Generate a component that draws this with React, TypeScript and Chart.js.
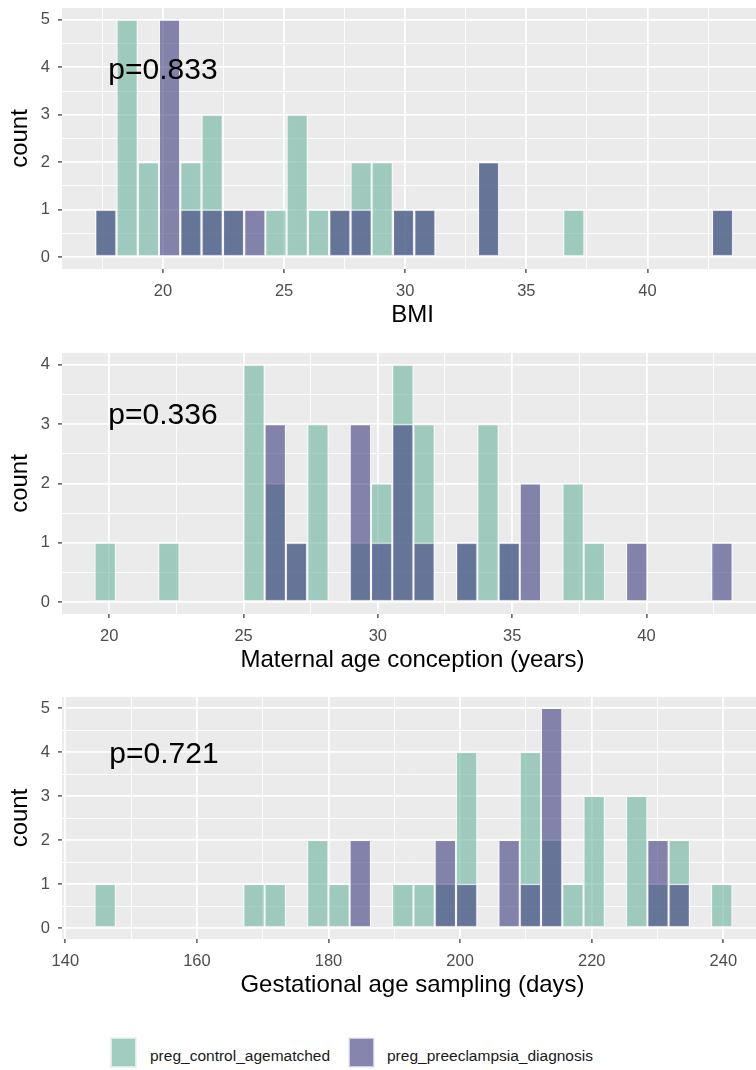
import React, { useEffect, useRef } from 'react';
import { Chart, registerables } from 'chart.js';

Chart.register(...registerables);

// ---------- data ----------
const SERIES_NAMES = ['preg_control_agematched', 'preg_preeclampsia_diagnosis'];

// Panel 1: BMI (bin centres, 30 bins)
const BMI_BINS = [17.64, 18.52, 19.40, 20.27, 21.15, 22.03, 22.91, 23.79, 24.66, 25.54,
  26.42, 27.30, 28.18, 29.05, 29.93, 30.81, 31.69, 32.57, 33.44, 34.32,
  35.20, 36.08, 36.96, 37.83, 38.71, 39.59, 40.47, 41.35, 42.22, 43.10];
const BMI_CONTROL = [1, 5, 2, 0, 2, 3, 1, 0, 1, 3, 1, 1, 2, 2, 1, 1, 0, 0, 2, 0, 0, 0, 1, 0, 0, 0, 0, 0, 0, 1];
const BMI_PRE = [1, 0, 0, 5, 1, 1, 1, 1, 0, 0, 0, 1, 1, 0, 1, 1, 0, 0, 2, 0, 0, 0, 0, 0, 0, 0, 0, 0, 0, 1];

// Panel 2: Maternal age conception (years)
const AGE_BINS = [19.85, 20.64, 21.43, 22.22, 23.02, 23.81, 24.60, 25.39, 26.18, 26.97,
  27.77, 28.56, 29.35, 30.14, 30.93, 31.72, 32.52, 33.31, 34.10, 34.89,
  35.68, 36.47, 37.27, 38.06, 38.85, 39.64, 40.43, 41.22, 42.02, 42.81];
const AGE_CONTROL = [1, 0, 0, 1, 0, 0, 0, 4, 2, 1, 3, 0, 1, 2, 4, 3, 0, 1, 3, 1, 0, 0, 2, 1, 0, 0, 0, 0, 0, 0];
const AGE_PRE = [0, 0, 0, 0, 0, 0, 0, 0, 3, 1, 0, 0, 3, 1, 3, 1, 0, 1, 0, 1, 2, 0, 0, 0, 0, 1, 0, 0, 0, 1];

// Panel 3: Gestational age sampling (days)
const GEST_BINS = [146.06, 149.29, 152.52, 155.75, 158.98, 162.22, 165.45, 168.68, 171.91, 175.14,
  178.37, 181.60, 184.83, 188.06, 191.29, 194.53, 197.76, 200.99, 204.22, 207.45,
  210.68, 213.91, 217.14, 220.37, 223.60, 226.84, 230.07, 233.30, 236.53, 239.76];
const GEST_CONTROL = [1, 0, 0, 0, 0, 0, 0, 1, 1, 0, 2, 1, 0, 0, 1, 1, 1, 4, 0, 0, 4, 2, 1, 3, 0, 3, 1, 2, 0, 1];
const GEST_PRE = [0, 0, 0, 0, 0, 0, 0, 0, 0, 0, 0, 0, 2, 0, 0, 0, 2, 1, 0, 2, 1, 5, 0, 0, 0, 0, 2, 1, 0, 0];

// ticks
const BMI_X_MAJOR = [20, 25, 30, 35, 40];
const BMI_X_MINOR = [17.5, 22.5, 27.5, 32.5, 37.5, 42.5];
const AGE_X_MAJOR = [20, 25, 30, 35, 40];
const AGE_X_MINOR = [22.5, 27.5, 32.5, 37.5, 42.5];
const GEST_X_MAJOR = [140, 160, 180, 200, 220, 240];
const GEST_X_MINOR = [150, 170, 190, 210, 230];
const COUNT5_MAJOR = [0, 1, 2, 3, 4, 5];
const COUNT5_MINOR = [0.5, 1.5, 2.5, 3.5, 4.5];
const COUNT4_MAJOR = [0, 1, 2, 3, 4];
const COUNT4_MINOR = [0.5, 1.5, 2.5, 3.5];

// p-value annotations
const P_TEXTS = ['p=0.833', 'p=0.336', 'p=0.721'];

// ---------- style ----------
const FONT = "'Liberation Sans', Arial, Helvetica, sans-serif";
const TEAL = 'rgba(107,180,160,0.6)';
const PURPLE = 'rgba(62,60,127,0.6)';
const BAR_BORDER = 'rgba(255,255,255,0.55)';
const PANEL_BG = '#EBEBEB';
const CANVAS_W = 770;

type PanelProps = {
  bins: number[];
  control: number[];
  pre: number[];
  xMin: number;
  xMax: number;
  xMajor: number[];
  xMinor: number[];
  yMin: number;
  yMax: number;
  yMajor: number[];
  yMinor: number[];
  xTitle: string;
  pText: string;
  pX: number;
  pY: number;
  top: number;
  height: number;
};

function HistPanel(props: PanelProps) {
  const ref = useRef<HTMLCanvasElement | null>(null);

  useEffect(() => {
    const canvas = ref.current;
    if (!canvas) return;
    const p = props;
    const isMajor = (arr: number[], v: number) => arr.some((m) => Math.abs(m - v) < 1e-9);

    const bgPlugin = {
      id: 'panelBg',
      beforeDraw(chart: any) {
        const { ctx, chartArea } = chart;
        ctx.save();
        ctx.fillStyle = PANEL_BG;
        ctx.fillRect(chartArea.left, chartArea.top, chartArea.right - chartArea.left, chartArea.bottom - chartArea.top);
        ctx.restore();
      },
    };
    const pPlugin = {
      id: 'pLabel',
      afterDatasetsDraw(chart: any) {
        const { ctx } = chart;
        const xs = chart.scales.x;
        const ys = chart.scales.y;
        ctx.save();
        ctx.font = `30px ${FONT}`;
        ctx.fillStyle = '#000000';
        ctx.textAlign = 'center';
        ctx.textBaseline = 'middle';
        ctx.fillText(p.pText, xs.getPixelForValue(p.pX), ys.getPixelForValue(p.pY) + 3);
        ctx.restore();
      },
    };

    const chart = new Chart(canvas, {
      type: 'bar',
      data: {
        datasets: [
          {
            label: SERIES_NAMES[0],
            data: p.bins.map((b, i) => ({ x: b, y: p.control[i] })),
            backgroundColor: TEAL,
            borderColor: BAR_BORDER,
            borderWidth: 1.3,
            borderSkipped: false,
            grouped: false,
            barPercentage: 1,
            categoryPercentage: 1,
            order: 2,
          },
          {
            label: SERIES_NAMES[1],
            data: p.bins.map((b, i) => ({ x: b, y: p.pre[i] })),
            backgroundColor: PURPLE,
            borderColor: BAR_BORDER,
            borderWidth: 1.3,
            borderSkipped: false,
            grouped: false,
            barPercentage: 1,
            categoryPercentage: 1,
            order: 1,
          },
        ],
      } as any,
      options: {
        responsive: false,
        animation: false,
        devicePixelRatio: 1,
        layout: { padding: { top: 8, left: 0, right: 7, bottom: 0 } },
        plugins: {
          legend: { display: false },
          tooltip: { enabled: false },
        },
        scales: {
          x: {
            type: 'linear',
            min: p.xMin,
            max: p.xMax,
            offset: false,
            border: { display: false },
            grid: {
              offset: false,
              color: '#FFFFFF',
              lineWidth: (c: any) => (isMajor(p.xMajor, c.tick?.value) ? 1.8 : 0.9),
              drawTicks: true,
              tickLength: 4,
              tickWidth: 1.2,
              tickColor: (c: any) => (isMajor(p.xMajor, c.tick?.value) ? '#333333' : 'rgba(0,0,0,0)'),
            },
            ticks: {
              autoSkip: false,
              maxRotation: 0,
              padding: 9,
              color: '#4D4D4D',
              font: { family: FONT, size: 16.5 },
              callback: (v: any) => (isMajor(p.xMajor, Number(v)) ? String(v) : ''),
            },
            title: {
              display: true,
              text: p.xTitle,
              color: '#000000',
              font: { family: FONT, size: 24 },
              padding: { top: 0, bottom: 3 },
            },
            afterBuildTicks: (scale: any) => {
              scale.ticks = [...p.xMajor, ...p.xMinor].sort((a, b) => a - b).map((v) => ({ value: v }));
            },
            afterFit: (scale: any) => {
              scale.height = 64;
              scale.paddingLeft = 0;
              scale.paddingRight = 0;
            },
          },
          y: {
            type: 'linear',
            min: p.yMin,
            max: p.yMax,
            border: { display: false },
            grid: {
              color: '#FFFFFF',
              lineWidth: (c: any) => (isMajor(p.yMajor, c.tick?.value) ? 1.8 : 0.9),
              drawTicks: true,
              tickLength: 4,
              tickWidth: 1.2,
              tickColor: (c: any) => (isMajor(p.yMajor, c.tick?.value) ? '#333333' : 'rgba(0,0,0,0)'),
            },
            ticks: {
              autoSkip: false,
              padding: 8,
              color: '#4D4D4D',
              font: { family: FONT, size: 16.5 },
              callback: (v: any) => (isMajor(p.yMajor, Number(v)) ? String(v) : ''),
            },
            title: {
              display: true,
              text: 'count',
              color: '#000000',
              font: { family: FONT, size: 24 },
              padding: { top: 6, bottom: 0 },
            },
            afterBuildTicks: (scale: any) => {
              scale.ticks = [...p.yMajor, ...p.yMinor].sort((a, b) => a - b).map((v) => ({ value: v }));
            },
            afterFit: (scale: any) => {
              scale.width = 62;
              scale.paddingTop = 0;
              scale.paddingBottom = 0;
            },
          },
        },
      } as any,
      plugins: [bgPlugin, pPlugin],
    });
    return () => chart.destroy();
  }, []);

  return (
    <canvas
      ref={ref}
      width={CANVAS_W}
      height={props.height}
      style={{ position: 'absolute', left: 0, top: props.top, width: CANVAS_W, height: props.height }}
    />
  );
}

function LegendKey({ left, color }: { left: number; color: string }) {
  return (
    <div
      style={{
        position: 'absolute',
        left,
        top: 1037,
        width: 27,
        height: 31,
        background: '#F2F2F2',
      }}
    >
      <div style={{ position: 'absolute', inset: 1, background: color, border: '1px solid rgba(255,255,255,0.6)', boxSizing: 'border-box' }} />
    </div>
  );
}

export default function App() {
  return (
    <div
      style={{
        position: 'absolute',
        left: 0,
        top: 0,
        width: 756,
        height: 1070,
        overflow: 'hidden',
        background: '#FFFFFF',
      }}
    >
      <HistPanel
        bins={BMI_BINS}
        control={BMI_CONTROL}
        pre={BMI_PRE}
        xMin={15.83}
        xMax={44.77}
        xMajor={BMI_X_MAJOR}
        xMinor={BMI_X_MINOR}
        yMin={-0.25}
        yMax={5.25}
        yMajor={COUNT5_MAJOR}
        yMinor={COUNT5_MINOR}
        xTitle="BMI"
        pText={P_TEXTS[0]}
        pX={20}
        pY={4}
        top={0}
        height={333}
      />
      <HistPanel
        bins={AGE_BINS}
        control={AGE_CONTROL}
        pre={AGE_PRE}
        xMin={18.24}
        xMax={44.34}
        xMajor={AGE_X_MAJOR}
        xMinor={AGE_X_MINOR}
        yMin={-0.2}
        yMax={4.2}
        yMajor={COUNT4_MAJOR}
        yMinor={COUNT4_MINOR}
        xTitle="Maternal age conception (years)"
        pText={P_TEXTS[1]}
        pX={22}
        pY={3.2}
        top={345}
        height={333}
      />
      <HistPanel
        bins={GEST_BINS}
        control={GEST_CONTROL}
        pre={GEST_PRE}
        xMin={139.5}
        xMax={246.03}
        xMajor={GEST_X_MAJOR}
        xMinor={GEST_X_MINOR}
        yMin={-0.25}
        yMax={5.25}
        yMajor={COUNT5_MAJOR}
        yMinor={COUNT5_MINOR}
        xTitle="Gestational age sampling (days)"
        pText={P_TEXTS[2]}
        pX={155}
        pY={4}
        top={689}
        height={314}
      />
      <LegendKey left={110} color={TEAL} />
      <div
        style={{
          position: 'absolute',
          left: 150,
          top: 1045,
          fontFamily: FONT,
          fontSize: 15.5,
          lineHeight: '22px',
          color: '#1A1A1A',
          whiteSpace: 'nowrap',
        }}
      >
        {SERIES_NAMES[0]}
      </div>
      <LegendKey left={348} color={PURPLE} />
      <div
        style={{
          position: 'absolute',
          left: 387,
          top: 1045,
          fontFamily: FONT,
          fontSize: 15.5,
          lineHeight: '22px',
          color: '#1A1A1A',
          whiteSpace: 'nowrap',
        }}
      >
        {SERIES_NAMES[1]}
      </div>
    </div>
  );
}
